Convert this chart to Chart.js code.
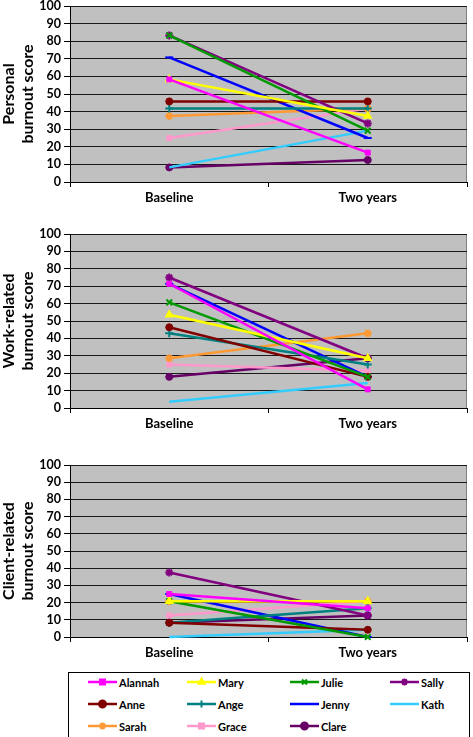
<!DOCTYPE html>
<html lang="en">
<head>
  <meta charset="UTF-8">
  <title>Burnout scores</title>
  <script src="https://cdn.jsdelivr.net/npm/chart.js@4"></script>
  <style>
    body { margin: 0; background: #fff; width: 473px; height: 737px; position: relative; overflow: hidden; font-family: Lato, 'Liberation Sans', sans-serif; }
    .panel { position: absolute; left: 0; }
    #legend { position: absolute; left: 68px; top: 672px; width: 402px; height: 70px; border: 1px solid #000; box-sizing: border-box; }
    .item { position: absolute; height: 14px; display: flex; align-items: center; font-weight: bold; font-size: 11px; color: #000; }
    .item canvas { margin-right: 2px; }
  </style>
</head>
<body>
  <div class="panel" style="top:0"><canvas id="personal" width="473" height="212"></canvas></div>
  <div class="panel" style="top:220px"><canvas id="work" width="473" height="230"></canvas></div>
  <div class="panel" style="top:450px"><canvas id="client" width="473" height="215"></canvas></div>
  <div id="legend"></div>

  <script>
    const periods = ['Baseline', 'Two years'];
    const names = ['Alannah', 'Mary', 'Julie', 'Sally', 'Anne', 'Ange', 'Jenny', 'Kath', 'Sarah', 'Grace', 'Clare'];

    // scores, one value per person in the order of names
    const personalBaseline = [58.3, 58.3, 83.3, 83.3, 45.8, 41.7, 70.8, 8.3, 37.5, 25.0, 8.3];
    const personalTwoYears = [16.7, 37.5, 29.2, 33.3, 45.8, 41.7, 25.0, 29.2, 41.7, 41.7, 12.5];
    const workBaseline = [71.4, 53.6, 60.7, 75.0, 46.4, 42.9, 71.4, 3.6, 28.6, 25.0, 17.9];
    const workTwoYears = [10.7, 28.6, 17.9, 28.6, 17.9, 25.0, 17.9, 14.3, 42.9, 21.4, 28.6];
    const clientBaseline = [25.0, 20.8, 20.8, 37.5, 8.3, 8.3, 25.0, 0, 20.8, 12.5, 8.3];
    const clientTwoYears = [16.7, 20.8, 0, 12.5, 4.2, 16.7, 0, 4.2, 20.8, 20.8, 12.5];

    const yTicks = [0, 10, 20, 30, 40, 50, 60, 70, 80, 90, 100];

    const colors = ['#ff00ff', '#ffff00', '#009900', '#800080', '#800000', '#008080', '#0000ff', '#33ccff', '#ff9933', '#ff99cc', '#660066'];
    const markers = ['rect', 'triangle', 'crossRot', 'star', 'circle', 'cross', 'line', false, 'star', 'rect', 'circle'];

    const font = 'Lato, "Liberation Sans", sans-serif';

    const plotBg = {
      id: 'plotBg',
      beforeDraw(chart) {
        const a = chart.chartArea, ctx = chart.ctx;
        ctx.save();
        ctx.fillStyle = '#c0c0c0';
        ctx.fillRect(a.left, a.top, a.right - a.left, a.bottom - a.top);
        ctx.strokeStyle = '#808080';
        ctx.lineWidth = 1;
        ctx.strokeRect(a.left + 0.5, a.top + 0.5, a.right - a.left - 1, a.bottom - a.top);
        ctx.restore();
      }
    };

    function markerSize(m) {
      return m === 'circle' || m === 'rect' || m === 'triangle' ? 3.5 : 4;
    }

    function makeChart(id, title, base, two, padTop, xHeight) {
      const datasets = names.map((n, i) => ({
        label: n,
        data: [base[i], two[i]],
        borderColor: colors[i],
        backgroundColor: colors[i],
        pointBackgroundColor: colors[i],
        pointBorderColor: colors[i],
        borderWidth: 2.5,
        pointStyle: markers[i],
        pointRadius: markers[i] ? markerSize(markers[i]) : 0,
        pointBorderWidth: markers[i] === 'circle' || markers[i] === 'rect' ? 1 : 2,
        clip: false
      }));
      new Chart(document.getElementById(id), {
        type: 'line',
        data: { labels: periods, datasets },
        options: {
          responsive: false,
          animation: false,
          layout: { padding: { top: padTop, right: 1, left: 0, bottom: 0 } },
          plugins: { legend: { display: false }, tooltip: { enabled: false } },
          scales: {
            x: {
              offset: true,
              grid: { offset: true, drawOnChartArea: false, drawTicks: true, tickLength: 5, tickColor: '#000' },
              border: { color: '#000', width: 1 },
              ticks: { color: '#000', font: { family: font, weight: 'bold', size: 13 }, padding: 3 },
              afterFit(s) { s.height = xHeight; s.paddingLeft = 0; s.paddingRight = 0; }
            },
            y: {
              min: 0,
              max: 100,
              afterBuildTicks(s) { s.ticks = yTicks.map(v => ({ value: v })); },
              ticks: { color: '#000', autoSkip: false, font: { family: font, weight: 'bold', size: 12.5 }, padding: 3 },
              grid: { color: '#1a1a1a', lineWidth: 1, tickLength: 6, tickColor: '#000' },
              border: { color: '#000', width: 1 },
              title: { display: true, text: title, color: '#000', font: { family: font, weight: 'bold', size: 16, lineHeight: 1.15 }, padding: { top: 0, bottom: 2 } },
              afterFit(s) { s.width = 70; s.paddingTop = 0; s.paddingBottom = 0; }
            }
          }
        },
        plugins: [plotBg]
      });
    }

    makeChart('personal', ['Personal', 'burnout score'], personalBaseline, personalTwoYears, 5, 30);
    makeChart('work', ['Work-related', 'burnout score'], workBaseline, workTwoYears, 14, 42);
    makeChart('client', ['Client-related', 'burnout score'], clientBaseline, clientTwoYears, 15, 28);

    // legend, 4 columns
    const legend = document.getElementById('legend');
    const colX = [87, 186, 289, 389];
    const rowY = [682, 704, 726];
    names.forEach((n, i) => {
      const item = document.createElement('div');
      item.className = 'item';
      item.style.left = (colX[i % 4] - 68) + 'px';
      item.style.top = (rowY[Math.floor(i / 4)] - 672 - 8) + 'px';
      const c = document.createElement('canvas');
      c.width = 29; c.height = 14;
      const ctx = c.getContext('2d');
      ctx.strokeStyle = colors[i];
      ctx.fillStyle = colors[i];
      ctx.lineWidth = 2.5;
      ctx.beginPath(); ctx.moveTo(0, 7); ctx.lineTo(29, 7); ctx.stroke();
      if (markers[i] && Chart.helpers && Chart.helpers.drawPoint) {
        ctx.lineWidth = 2;
        Chart.helpers.drawPoint(ctx, { pointStyle: markers[i], radius: 3.5, rotation: 0, borderWidth: 2 }, 14.5, 7);
      }
      item.appendChild(c);
      const t = document.createElement('span');
      t.textContent = n;
      item.appendChild(t);
      legend.appendChild(item);
    });
  </script>
</body>
</html>
